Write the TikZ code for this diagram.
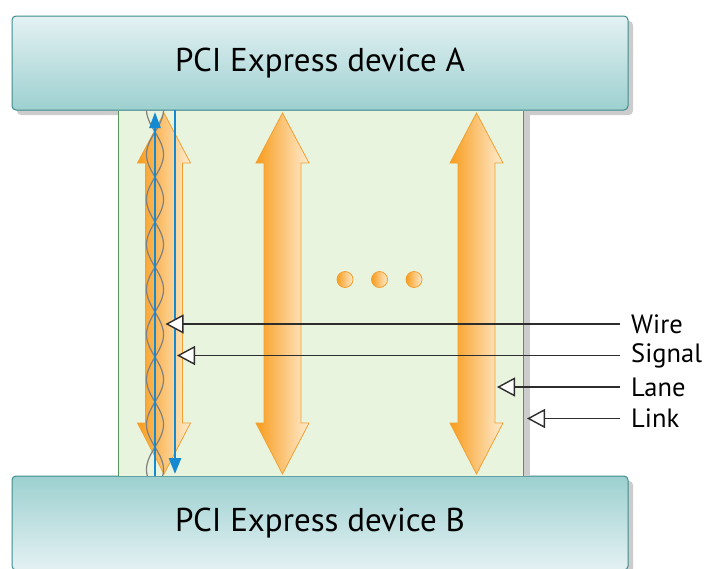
\documentclass[tikz,border=0pt]{standalone}
\usepackage{fontspec}
\setmainfont{PT Sans}
\usetikzlibrary{arrows.meta,shadows}

\definecolor{boxlight}{RGB}{228,241,243}
\definecolor{boxdark}{RGB}{157,208,208}
\definecolor{boxline}{RGB}{62,140,140}
\definecolor{linkfill}{RGB}{232,244,222}
\definecolor{linkline}{RGB}{84,150,92}
\definecolor{lanedark}{RGB}{248,156,28}
\definecolor{lanelight}{RGB}{254,236,208}
\definecolor{laneline}{RGB}{243,160,48}
\definecolor{sigblue}{RGB}{22,138,208}
\definecolor{wiregray}{RGB}{128,128,128}
\definecolor{ptrline}{RGB}{45,45,45}

\tikzset{
  device/.style={draw=boxline, line width=1pt, rounded corners=4pt,
    minimum width=616pt, minimum height=94pt,
    font=\fontsize{33}{39}\selectfont,
    drop shadow={shadow xshift=5pt, shadow yshift=-5pt, fill=black!20, opacity=1}},
  lanearrow/.style={draw=laneline, line width=0.8pt,
    left color=lanedark, right color=lanelight},
  sig/.style={sigblue, line width=2.7pt},
  wire/.style={wiregray, line width=1.2pt},
  lbl/.style={anchor=west, inner xsep=11pt, inner ysep=0pt,
    font=\fontsize{26.5}{31}\selectfont},
  ptr/.style={ptrline, line width=1.4pt,
    -{Triangle[length=18pt, width=19pt, fill=white]}}
}

\begin{document}
\begin{tikzpicture}[x=1pt, y=-1pt]
  \useasboundingbox (0,0) rectangle (704,568);

  % the two devices
  \node[device, top color=boxlight, bottom color=boxdark] (devA) at (320,63) {PCI Express device A};
  \node[device, top color=boxdark, bottom color=boxlight] (devB) at (320,523) {PCI Express device B};

  % link
  \fill[black!20] (523,110.5) rectangle (530,475.5);
  \fill[linkfill] (118,110.5) rectangle (523,475.5);
  \draw[linkline, line width=1pt] (118,110.5) -- (118,475.5);
  \draw[linkline, line width=1pt] (523,110.5) -- (523,475.5);

  \begin{scope}
    \clip (118,110.5) rectangle (530,475.5);
    % lanes
    \foreach \x in {164,282.5,476.5}
      \shade[lanearrow] (\x,113) -- (\x+26.5,163) -- (\x+18.5,163) -- (\x+18.5,423)
        -- (\x+26.5,423) -- (\x,474) -- (\x-26.5,423) -- (\x-18.5,423)
        -- (\x-18.5,163) -- (\x-26.5,163) -- cycle;
    % twisted pair
    \draw[wire] plot[domain=87:492, samples=180, smooth] ({155+8.5*sin(4*(\x-87))}, \x);
    \draw[wire] plot[domain=87:492, samples=180, smooth] ({155-8.5*sin(4*(\x-87))}, \x);
    % signals
    \draw[sig, -{Triangle[length=16pt, width=11pt]}] (155,480) -- (155,112);
    \draw[sig, -{Triangle[length=16pt, width=12pt]}] (175,106) -- (175,474);
  \end{scope}

  % more lanes
  \foreach \x in {345,379.5,414}
    \shade[draw=laneline, line width=0.8pt, left color=lanedark, right color=lanelight] (\x,279.5) circle (8);

  % labels
  \coordinate (wiretip) at (165.5,324);
  \coordinate (signaltip) at (177,355.5);
  \coordinate (lanetip) at (497,387);
  \coordinate (linktip) at (527,418.5);
  \node[lbl] (wire) at (620,324) {Wire};
  \node[lbl] (signal) at (620,355.5) {Signal};
  \node[lbl] (lane) at (620,387) {Lane};
  \node[lbl] (link) at (620,418.5) {Link};
  \draw[ptr] (wire.west) -- (wiretip);
  \draw[ptr] (signal.west) -- (signaltip);
  \draw[ptr] (lane.west) -- (lanetip);
  \draw[ptr] (link.west) -- (linktip);
\end{tikzpicture}
\end{document}
